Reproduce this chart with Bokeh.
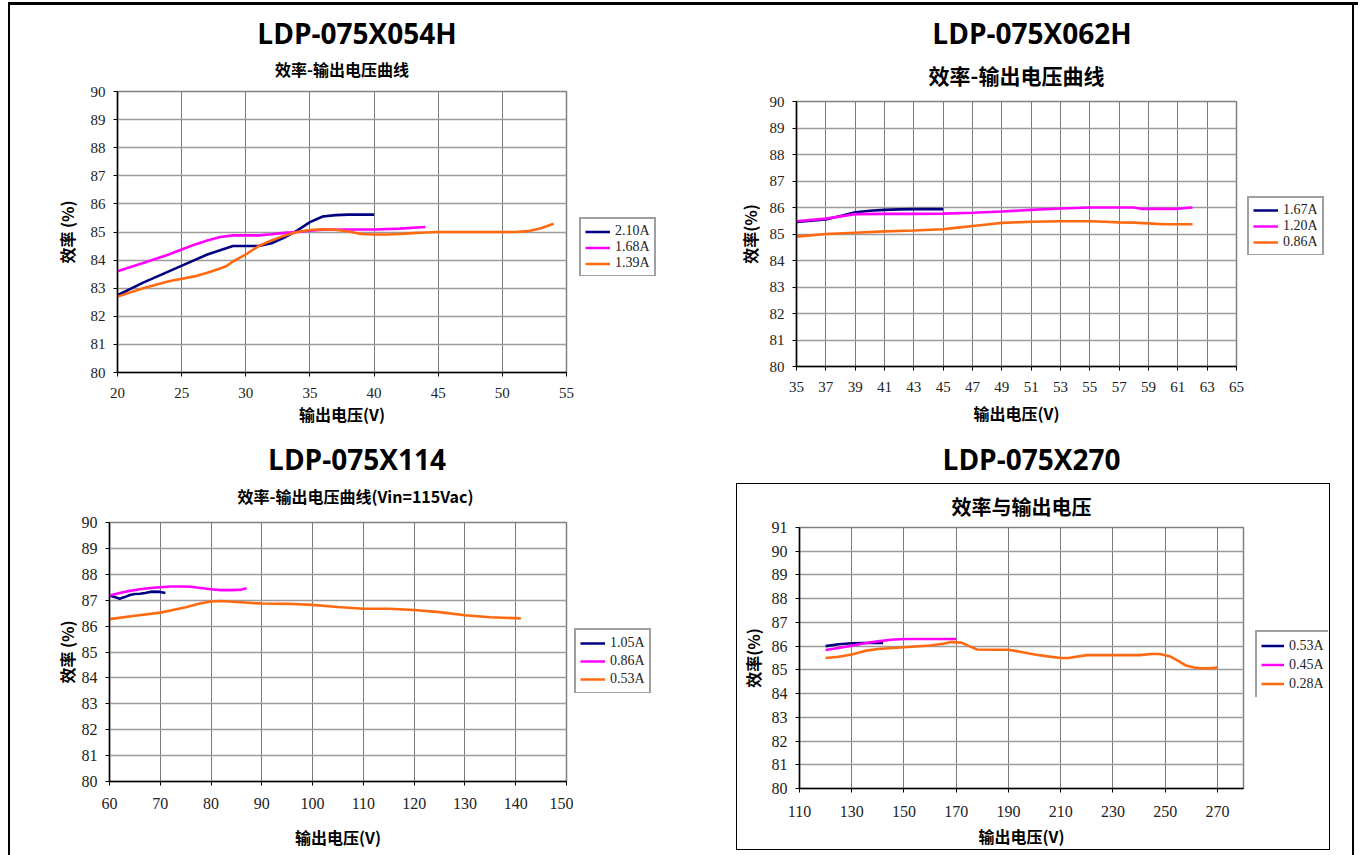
from bokeh.plotting import figure
from bokeh.models import Range1d, FixedTicker, Legend, LegendItem, Title, Div, Spacer
from bokeh.layouts import row, column
from bokeh.embed import file_html
from bokeh.resources import INLINE

NAVY = "#000080"
MAGENTA = "#FF00FF"
ORANGE = "#FF6A10"
COLORS = [NAVY, MAGENTA, ORANGE]

# ---------------- Chart 1: LDP-075X054H ----------------
c1_title = "LDP-075X054H"
c1_sub = "效率-输出电压曲线"
c1_names = ["2.10A", "1.68A", "1.39A"]
c1_x_a = [20, 22, 24, 26, 27, 28, 29, 30, 31, 32, 33, 34, 35, 36, 37, 38, 39, 40]
c1_y_a = [82.75, 83.2, 83.6, 84.0, 84.2, 84.35, 84.5, 84.5, 84.5, 84.6, 84.8, 85.05, 85.35, 85.55, 85.6, 85.62, 85.62, 85.62]
c1_x_b = [20, 22, 24, 25, 26, 27, 28, 29, 30, 31, 32, 33, 34, 35, 36, 38, 40, 42, 44]
c1_y_b = [83.6, 83.9, 84.2, 84.38, 84.55, 84.7, 84.82, 84.88, 84.88, 84.88, 84.92, 84.97, 85.0, 85.05, 85.08, 85.09, 85.09, 85.12, 85.18]
c1_x_c = [20, 22, 24, 26, 27, 28, 28.5, 29, 30, 31, 32, 33, 34, 35, 36, 37, 38, 39, 40, 41, 42, 43, 44, 45, 47, 49, 51, 52, 53, 54]
c1_y_c = [82.7, 83.0, 83.25, 83.42, 83.55, 83.7, 83.79, 83.95, 84.2, 84.5, 84.7, 84.87, 85.0, 85.07, 85.1, 85.08, 85.02, 84.93, 84.91, 84.91, 84.93, 84.96, 84.98, 85.0, 85.0, 85.0, 85.0, 85.03, 85.13, 85.29]
c1_xticks = [20, 25, 30, 35, 40, 45, 50, 55]

# ---------------- Chart 2: LDP-075X062H ----------------
c2_title = "LDP-075X062H"
c2_sub = "效率-输出电压曲线"
c2_names = ["1.67A", "1.20A", "0.86A"]
c2_x_a = [35, 36, 37, 38, 39, 40, 41, 42, 43, 44, 45]
c2_y_a = [85.45, 85.5, 85.55, 85.68, 85.82, 85.88, 85.91, 85.93, 85.94, 85.94, 85.94]
c2_x_b = [35, 37, 39, 41, 43, 45, 47, 49, 51, 53, 55, 57, 58, 58.5, 59, 61, 61.5, 62]
c2_y_b = [85.48, 85.58, 85.75, 85.76, 85.76, 85.77, 85.8, 85.85, 85.91, 85.96, 86.0, 86.0, 86.0, 85.95, 85.95, 85.95, 85.98, 86.0]
c2_x_c = [35, 37, 39, 41, 43, 45, 46, 47, 48, 49, 51, 53, 55, 56, 57, 58, 59, 60, 61, 62]
c2_y_c = [84.9, 85.0, 85.05, 85.1, 85.13, 85.18, 85.24, 85.3, 85.36, 85.42, 85.46, 85.48, 85.48, 85.46, 85.44, 85.43, 85.4, 85.37, 85.37, 85.37]
c2_xticks = list(range(35, 66, 2))

# ---------------- Chart 3: LDP-075X114 ----------------
c3_title = "LDP-075X114"
c3_sub = "效率-输出电压曲线(Vin=115Vac)"
c3_names = ["1.05A", "0.86A", "0.53A"]
c3_x_a = [60, 61, 62, 63, 64, 65, 66, 67, 68, 69, 70, 71]
c3_y_a = [87.18, 87.12, 87.06, 87.12, 87.2, 87.24, 87.25, 87.28, 87.32, 87.33, 87.32, 87.28]
c3_x_b = [60, 62, 64, 66, 68, 70, 72, 74, 76, 78, 80, 82, 84, 86, 87]
c3_y_b = [87.18, 87.28, 87.36, 87.42, 87.47, 87.5, 87.53, 87.53, 87.52, 87.47, 87.42, 87.39, 87.39, 87.41, 87.46]
c3_x_c = [60, 65, 70, 72, 75, 78, 80, 82, 85, 90, 95, 100, 105, 110, 115, 120, 125, 130, 135, 141]
c3_y_c = [86.27, 86.4, 86.52, 86.6, 86.73, 86.88, 86.95, 86.97, 86.93, 86.87, 86.86, 86.82, 86.74, 86.67, 86.67, 86.62, 86.54, 86.42, 86.34, 86.3]
c3_xticks = list(range(60, 151, 10))

# ---------------- Chart 4: LDP-075X270 ----------------
c4_title = "LDP-075X270"
c4_sub = "效率与输出电压"
c4_names = ["0.53A", "0.45A", "0.28A"]
c4_x_a = [120, 125, 130, 135, 140, 142]
c4_y_a = [86.0, 86.08, 86.12, 86.13, 86.13, 86.13]
c4_x_b = [120, 125, 130, 135, 140, 145, 150, 160, 170]
c4_y_b = [85.84, 85.92, 86.02, 86.12, 86.2, 86.27, 86.3, 86.3, 86.3]
c4_x_c = [120, 125, 130, 135, 140, 150, 160, 165, 168, 172, 175, 178, 185, 190, 195, 200, 205, 210, 213, 220, 230, 240, 245, 248, 252, 255, 258, 261, 264, 267, 270]
c4_y_c = [85.5, 85.55, 85.65, 85.8, 85.88, 85.95, 86.03, 86.1, 86.17, 86.15, 86.0, 85.86, 85.85, 85.85, 85.75, 85.65, 85.57, 85.5, 85.5, 85.62, 85.62, 85.62, 85.67, 85.67, 85.56, 85.38, 85.18, 85.1, 85.07, 85.07, 85.1]
c4_xticks = list(range(110, 271, 20))

x_axis_label = "输出电压(V)"

CJK = "Noto Sans CJK SC"
SERIF = "Liberation Serif"


def make_fig(w, h, mb, xr, yr, xticks, yticks, sub, sub_size, sub_standoff, sub_align,
             sub_offset, ylabel, series, tick_size, y_std, ylab_std, x_std, xlab_std, lab_size):
    p = figure(width=w, height=h, x_range=Range1d(*xr), y_range=Range1d(*yr),
               output_backend="svg", toolbar_location=None,
               min_border_left=mb[0], min_border_right=mb[1],
               min_border_top=mb[2], min_border_bottom=mb[3])
    p.add_layout(Title(text=sub, align=sub_align, offset=sub_offset, text_font=CJK,
                       text_font_size=f"{sub_size}px", text_font_style="bold",
                       text_color="#000000", standoff=sub_standoff,
                       vertical_align="middle"), "above")
    p.outline_line_color = "#808080"
    p.outline_line_width = 1.5
    p.background_fill_color = "white"
    p.border_fill_color = None
    p.xaxis.ticker = FixedTicker(ticks=xticks)
    p.yaxis.ticker = FixedTicker(ticks=yticks)
    for ax in (p.xaxis[0], p.yaxis[0]):
        ax.axis_line_color = "black"
        ax.axis_line_width = 1.5
        ax.major_tick_line_color = "black"
        ax.major_tick_out = 4
        ax.major_tick_in = 0
        ax.minor_tick_line_color = None
        ax.major_label_text_font = SERIF
        ax.major_label_text_font_size = f"{tick_size}px"
        ax.major_label_text_color = "#222222"
        ax.axis_label_text_font = CJK
        ax.axis_label_text_font_style = "bold"
        ax.axis_label_text_font_size = f"{lab_size}px"
        ax.axis_label_text_color = "black"
    p.yaxis.axis_label = ylabel
    p.xaxis.axis_label = x_axis_label
    p.yaxis.major_label_standoff = y_std
    p.yaxis.axis_label_standoff = ylab_std
    p.xaxis.major_label_standoff = x_std
    p.xaxis.axis_label_standoff = xlab_std
    p.xgrid.ticker = FixedTicker(ticks=xticks)
    p.ygrid.ticker = FixedTicker(ticks=yticks)
    p.xgrid.grid_line_color = "#7a7a7a"
    p.xgrid.grid_line_width = 1
    p.ygrid.grid_line_color = "#9c9c9c"
    p.ygrid.grid_line_width = 1.6
    for (xs, ys), c in zip(series, COLORS):
        p.line(xs, ys, line_color=c, line_width=2.6)
    return p


def make_legend_fig(w, h, series, names, row_h, font_size, glyph_w):
    # small figure that only carries the legend box (its lines fall outside its range)
    p = figure(width=w, height=h, x_range=Range1d(0, 1), y_range=Range1d(0, 1),
               x_axis_type=None, y_axis_type=None, min_border=0,
               output_backend="svg", toolbar_location=None)
    p.outline_line_color = None
    p.background_fill_color = "white"
    p.border_fill_color = None
    items = []
    for (xs, ys), c, n in zip(series, COLORS, names):
        r = p.line(xs, ys, line_color=c, line_width=2.5)
        items.append(LegendItem(label=n, renderers=[r]))
    leg = Legend(items=items, location="top_left", orientation="vertical",
                 border_line_color="#404040", border_line_width=2,
                 background_fill_color="white", background_fill_alpha=1,
                 label_text_font=SERIF, label_text_font_size=f"{font_size}px",
                 label_text_color="#222222",
                 glyph_width=glyph_w, glyph_height=row_h, label_height=row_h,
                 spacing=0, padding=4, margin=1, label_standoff=5)
    p.add_layout(leg)
    return p


def title_div(text, w, h, lh, indent):
    return Div(text=text, width=w, height=h, margin=0,
               styles={"font-family": "'Open Sans'", "font-size": "28px",
                       "font-weight": "bold", "text-align": "center",
                       "line-height": f"{lh}px", "text-indent": f"{indent}px",
                       "color": "black", "white-space": "nowrap"})


def sp(w, h):
    return Spacer(width=w, height=h, margin=0)


yt10 = list(range(80, 91))
yt11 = list(range(80, 92))

s1 = [(c1_x_a, c1_y_a), (c1_x_b, c1_y_b), (c1_x_c, c1_y_c)]
s2 = [(c2_x_a, c2_y_a), (c2_x_b, c2_y_b), (c2_x_c, c2_y_c)]
s3 = [(c3_x_a, c3_y_a), (c3_x_b, c3_y_b), (c3_x_c, c3_y_c)]
s4 = [(c4_x_a, c4_y_a), (c4_x_b, c4_y_b), (c4_x_c, c4_y_c)]

figA = make_fig(568, 395, (107, 12, 46, 68), (20, 55), (80, 90), c1_xticks, yt10,
                c1_sub, 16, 20, "center", 0, "效率 (%)", s1, 15, 8, 9, 11, 1, 16)
figB = make_fig(556, 395, (106, 10, 56, 74), (35, 65), (80, 90), c2_xticks, yt10,
                c2_sub, 21, 22, "center", 0, "效率(%)", s2, 15, 8, 5, 11, 6, 16)
figC = make_fig(563, 387, (99, 7, 54, 74), (60, 150), (80, 90), c3_xticks, yt10,
                c3_sub, 16, 28, "left", 128, "效率 (%)", s3, 16, 8, 0, 12, 13, 16)
figD = make_fig(518, 367, (63, 11, 44, 61), (110, 280), (80, 91), c4_xticks, yt11,
                c4_sub, 20, 12, "center", 0, "效率(%)", s4, 16, 8, 4, 13, 4, 16)

legA = make_legend_fig(80, 60, s1, c1_names, 15, 14, 25)
legB = make_legend_fig(80, 60, s2, c2_names, 16, 14, 25)
legC = make_legend_fig(80, 66, s3, c3_names, 18, 14, 25)
legD = make_legend_fig(74, 68, s4, c4_names, 19, 14, 23)

divA = title_div(c1_title, 680, 40, 56, 14)
divB = title_div(c2_title, 662, 40, 56, 22)
divC = title_div(c3_title, 680, 28, 38, 14)
divD = title_div(c4_title, 662, 43, 38, 21)

blockA = row(figA, column(sp(80, 171), legA, sp(80, 164)), sp(32, 395))
blockB = row(figB, column(sp(80, 150), legB, sp(80, 185)), sp(26, 395))
blockC = row(figC, column(sp(80, 159), legC, sp(80, 162)), sp(37, 387))
boxD = row(figD, column(sp(74, 146), legD, sp(74, 153)), sp(2, 367),
           styles={"outline": "1.5px solid #000000", "outline-offset": "-1.5px"})

colA = column(divA, blockA)
colB = column(divB, blockB)
colC = column(divC, blockC)
colD = column(divD, row(sp(46, 367), boxD, sp(22, 367)), sp(662, 5))

content = column(row(colA, colB), row(colC, colD))

top_line = Div(text="", width=1350, height=3, margin=0, styles={"background-color": "#000000"})
left_line = Div(text="", width=2, height=850, margin=0, styles={"background-color": "#000000"})
right_line = Div(text="", width=2, height=850, margin=0, styles={"background-color": "#000000"})

root = row(sp(8, 855),
           column(sp(1350, 2), top_line, row(left_line, content, right_line)))

open("out.html", "w").write(file_html(root, INLINE))
